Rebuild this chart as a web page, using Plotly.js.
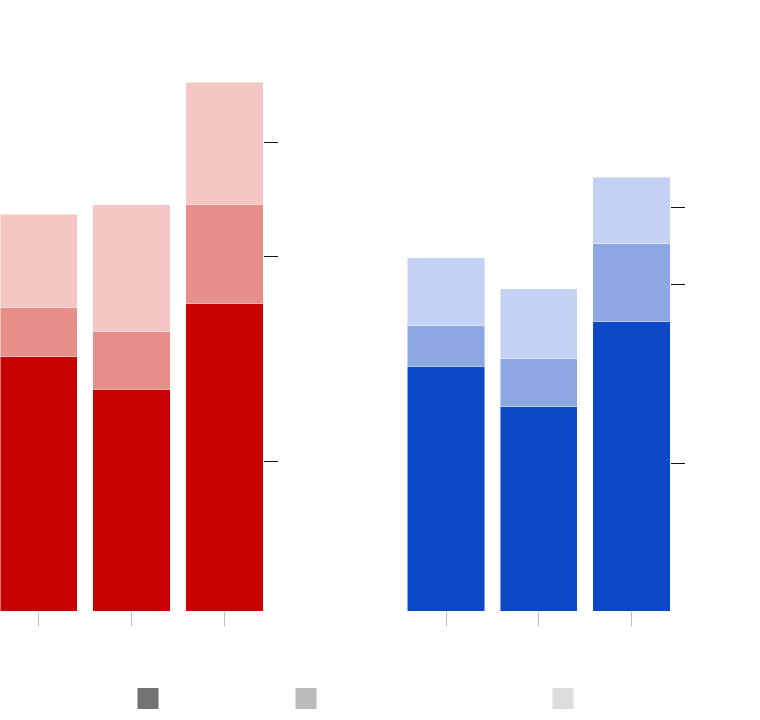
<!DOCTYPE html>
<html>
<head>
<meta charset="utf-8">
<script src="https://cdn.plot.ly/plotly-3.0.1.min.js"></script>
<style>html,body{margin:0;padding:0;background:#fff;}#chart{width:760px;height:720px;}</style>
</head>
<body>
<div id="chart"></div>
<script>
// Positions of the three bars in each panel (no visible category labels)
const groups = [0, 1, 2];

// Left panel (red) stacked segments, bottom to top
const redBase = [169.5, 148.0, 205.1];
const redMid  = [32.9, 38.5, 65.7];
const redTop  = [62.2, 84.4, 81.8];

// Right panel (blue) stacked segments, bottom to top
const blueBase = [163.3, 136.2, 193.1];
const blueMid  = [27.1, 32.0, 52.0];
const blueTop  = [45.1, 46.5, 44.0];

// Reference tick positions on the value axes
const leftTicks  = [99.8, 236.2, 312.2];
const rightTicks = [98.5, 218.0, 269.1];

// Legend swatch colours (shared segment levels)
const legendColors = ['#737373', '#bbbbbb', '#dddddd'];

const edge = {color: 'rgba(255,255,255,0.45)', width: 1};
function bar(y, color, xa, ya) {
  return {type: 'bar', x: groups, y: y, xaxis: xa, yaxis: ya, showlegend: false,
          marker: {color: color, line: edge}, hoverinfo: 'y'};
}

const traces = [
  bar(redBase, '#c80000', 'x', 'y'),
  bar(redMid, '#e68e87', 'x', 'y'),
  bar(redTop, '#f4c7c4', 'x', 'y'),
  bar(blueBase, '#0d49c7', 'x2', 'y2'),
  bar(blueMid, '#8ca7e2', 'x2', 'y2'),
  bar(blueTop, '#c5d1f2', 'x2', 'y2')
];
const legendIds = ['legend', 'legend2', 'legend3'];
legendColors.forEach((c, i) => {
  traces.push({type: 'scatter', mode: 'markers', x: [null], y: [null], name: '',
    legend: legendIds[i], showlegend: true, hoverinfo: 'skip',
    marker: {symbol: 'square', size: 16, color: c, line: {color: c, width: 5}}});
});

const xcommon = {range: [-0.417, 2.417], showgrid: false, zeroline: false, showline: false,
  showticklabels: false, ticks: 'outside', ticklen: 14, tickwidth: 1, tickcolor: '#bbbbbb',
  tickmode: 'array', tickvals: groups, fixedrange: true};
const ycommon = {range: [0, 400], showgrid: false, zeroline: false, showline: false,
  showticklabels: false, ticks: 'outside', ticklen: 14, tickwidth: 1, tickcolor: '#111111',
  side: 'right', tickmode: 'array', fixedrange: true};

const legBase = {orientation: 'h', xanchor: 'left', yanchor: 'top', bgcolor: 'rgba(0,0,0,0)',
  borderwidth: 0, font: {family: 'Roboto', size: 12, color: '#000'}};

const legY = -0.1217;
const layout = {
  width: 760, height: 720,
  margin: {l: 0, r: 0, t: 11, b: 109},
  paper_bgcolor: '#ffffff', plot_bgcolor: 'rgba(0,0,0,0)',
  barmode: 'stack', bargap: 0.166,
  xaxis: Object.assign({}, xcommon, {domain: [0, 263/760], anchor: 'y'}),
  xaxis2: Object.assign({}, xcommon, {domain: [407.3/760, 670.3/760], anchor: 'y2'}),
  yaxis: Object.assign({}, ycommon, {anchor: 'x', tickvals: leftTicks}),
  yaxis2: Object.assign({}, ycommon, {anchor: 'x2', tickvals: rightTicks}),
  legend: Object.assign({}, legBase, {x: 128/760, y: legY}),
  legend2: Object.assign({}, legBase, {x: 286/760, y: legY}),
  legend3: Object.assign({}, legBase, {x: 543/760, y: legY}),
  showlegend: true
};

Plotly.newPlot('chart', traces, layout, {staticPlot: true, displayModeBar: false});
</script>
</body>
</html>
